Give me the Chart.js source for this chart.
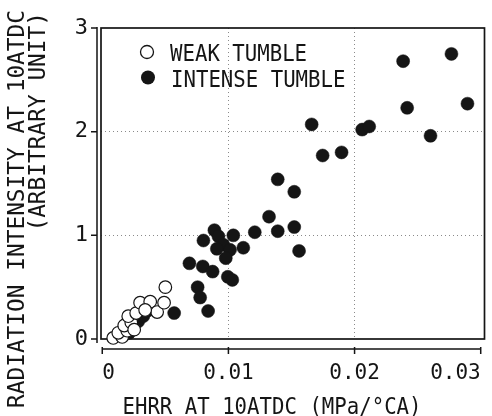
<!DOCTYPE html>
<html>
<head>
<meta charset="utf-8">
<script src="https://cdn.jsdelivr.net/npm/chart.js@4.4.1/dist/chart.umd.min.js"></script>
<style>
  html, body { margin: 0; padding: 0; background: #fff; overflow: hidden; }
  canvas { display: block; }
</style>
</head>
<body>
<canvas id="chart" width="492" height="416"></canvas>
<script>
const xTicks = [0, 0.01, 0.02, 0.03];
const yTicks = [0, 1, 2, 3];
const xTitle = "EHRR AT 10ATDC (MPa/\u00B0CA)";
const yTitle = ["RADIATION INTENSITY AT 10ATDC", "(ARBITRARY UNIT)"];

// weak tumble (open circles)
const weakX = [0.00087, 0.00158, 0.00127, 0.00198, 0.00174, 0.0023, 0.00206, 0.00269,
  0.0030, 0.0038, 0.00435, 0.0049, 0.0050, 0.0034, 0.00253];
const weakY = [0.01, 0.02, 0.06, 0.08, 0.13, 0.16, 0.22, 0.25,
  0.35, 0.36, 0.26, 0.35, 0.50, 0.28, 0.09];

// intense tumble (filled circles)
const intenseX = [0.0019, 0.00237, 0.00285, 0.00245, 0.00325, 0.00356, 0.0030, 0.00214, 0.0057,
  0.00691, 0.00797, 0.00875, 0.00756, 0.00776, 0.00839,
  0.00889, 0.00921, 0.00802, 0.01039, 0.01209, 0.01118, 0.0096, 0.00908, 0.01013, 0.00979,
  0.00995, 0.01031, 0.01322, 0.01391, 0.01522, 0.0156, 0.01391, 0.01522,
  0.0166, 0.01747, 0.01897, 0.0206, 0.02116, 0.02385, 0.02768, 0.02417, 0.02895, 0.02602];
const intenseY = [0.11, 0.13, 0.17, 0.20, 0.22, 0.27, 0.26, 0.06, 0.25,
  0.73, 0.70, 0.65, 0.50, 0.40, 0.27,
  1.05, 0.99, 0.95, 1.00, 1.03, 0.88, 0.91, 0.87, 0.86, 0.78,
  0.60, 0.57, 1.18, 1.04, 1.08, 0.85, 1.54, 1.42,
  2.07, 1.77, 1.80, 2.02, 2.05, 2.68, 2.75, 2.23, 2.27, 1.96];

const ink = "#151515";
const mono = '"DejaVu Sans Mono", monospace';

function toPoints(xs, ys) {
  return xs.map((x, i) => ({ x: x, y: ys[i] }));
}

// text with y = centre of capitals, optional rotation and horizontal squeeze
function drawText(ctx, str, x, y, size, align, rot, sx) {
  ctx.save();
  ctx.translate(x, y);
  if (rot) ctx.rotate(rot);
  ctx.scale(sx || 1, 1);
  ctx.font = size + "px " + mono;
  ctx.fillStyle = ink;
  ctx.textAlign = align;
  ctx.textBaseline = "alphabetic";
  ctx.fillText(str, 0, size * 0.365);
  ctx.restore();
}

const framePlugin = {
  id: "frame",
  beforeDatasetsDraw(chart) {
    const { ctx, chartArea: a } = chart;
    ctx.save();
    ctx.strokeStyle = ink;
    ctx.lineWidth = 1.7;
    ctx.strokeRect(a.left, a.top, a.right - a.left, a.bottom - a.top);
    ctx.restore();
  },
  afterDraw(chart) {
    const { ctx, scales } = chart;
    const xs = scales.x, ys = scales.y;
    ctx.save();
    ctx.strokeStyle = ink;
    ctx.lineWidth = 1.5;

    // detached y axis
    const ax = 97;
    ctx.beginPath();
    ctx.moveTo(ax, ys.getPixelForValue(yTicks[yTicks.length - 1]) - 1);
    ctx.lineTo(ax, ys.getPixelForValue(0) + 4);
    yTicks.forEach((v) => {
      const py = ys.getPixelForValue(v);
      ctx.moveTo(ax, py);
      ctx.lineTo(ax - 6, py);
    });
    ctx.stroke();

    // detached x axis
    const ay = 349;
    ctx.beginPath();
    ctx.moveTo(xs.getPixelForValue(xTicks[0]), ay);
    ctx.lineTo(xs.getPixelForValue(xTicks[xTicks.length - 1]), ay);
    xTicks.forEach((v) => {
      const px = xs.getPixelForValue(v);
      ctx.moveTo(px, ay - 2);
      ctx.lineTo(px, ay + 5);
    });
    ctx.stroke();

    // legend inside the plot
    const ds = chart.data.datasets;
    ctx.lineWidth = 1.3;
    ctx.beginPath();
    ctx.arc(147, 52, 6.5, 0, Math.PI * 2);
    ctx.fillStyle = "#fff";
    ctx.fill();
    ctx.stroke();
    ctx.beginPath();
    ctx.arc(148, 77.5, 7, 0, Math.PI * 2);
    ctx.fillStyle = ink;
    ctx.fill();
    ctx.restore();
    drawText(ctx, ds[0].label, 170, 53, 23, "left", 0, 0.9);
    drawText(ctx, ds[1].label, 171, 78.5, 23, "left", 0, 0.9);

    // axis titles
    drawText(ctx, xTitle, 272, 406, 23, "center", 0, 0.9);
    drawText(ctx, yTitle[0], 16, 10, 22.8, "right", -Math.PI / 2, 1);
    drawText(ctx, yTitle[1], 36.5, 12, 22.8, "right", -Math.PI / 2, 1);
  },
};

new Chart(document.getElementById("chart"), {
  type: "scatter",
  data: {
    datasets: [
      {
        label: "WEAK TUMBLE",
        data: toPoints(weakX, weakY),
        pointRadius: 6.3,
        pointBorderWidth: 1.2,
        backgroundColor: "#ffffff",
        borderColor: ink,
        clip: false,
      },
      {
        label: "INTENSE TUMBLE",
        data: toPoints(intenseX, intenseY),
        pointRadius: 6.5,
        pointBorderWidth: 0.5,
        backgroundColor: ink,
        borderColor: ink,
        clip: false,
      },
    ],
  },
  options: {
    responsive: false,
    animation: false,
    devicePixelRatio: 1,
    layout: { padding: { top: 28, right: 7, left: 0, bottom: 0 } },
    plugins: { legend: { display: false }, tooltip: { enabled: false } },
    scales: {
      x: {
        type: "linear",
        min: -0.0001,
        max: 0.0303,
        afterFit: (s) => {
          s.height = 77;
          s.paddingLeft = 0;
          s.paddingRight = 0;
        },
        afterBuildTicks: (s) => { s.ticks = xTicks.map((v) => ({ value: v })); },
        border: { display: false, dash: [1, 3] },
        grid: {
          drawTicks: false,
          color: (c) => (c.tick && c.tick.value > 0 && c.tick.value < 0.03 ? "#8a8a8a" : "rgba(0,0,0,0)"),
        },
        ticks: {
          padding: 22,
          align: "inner",
          color: ink,
          font: { family: mono, size: 21 },
          callback: (v) => (v === 0 ? "0" : v.toFixed(2)),
        },
      },
      y: {
        type: "linear",
        min: 0,
        max: 3,
        afterFit: (s) => {
          s.width = 101;
          s.paddingTop = 0;
          s.paddingBottom = 0;
        },
        afterBuildTicks: (s) => { s.ticks = yTicks.map((v) => ({ value: v })); },
        border: { display: false, dash: [1, 3] },
        grid: {
          drawTicks: false,
          color: (c) => (c.tick && c.tick.value > 0 && c.tick.value < 3 ? "#8a8a8a" : "rgba(0,0,0,0)"),
        },
        ticks: {
          padding: 13,
          color: ink,
          font: { family: mono, size: 22 },
        },
      },
    },
  },
  plugins: [framePlugin],
});
</script>
</body>
</html>
